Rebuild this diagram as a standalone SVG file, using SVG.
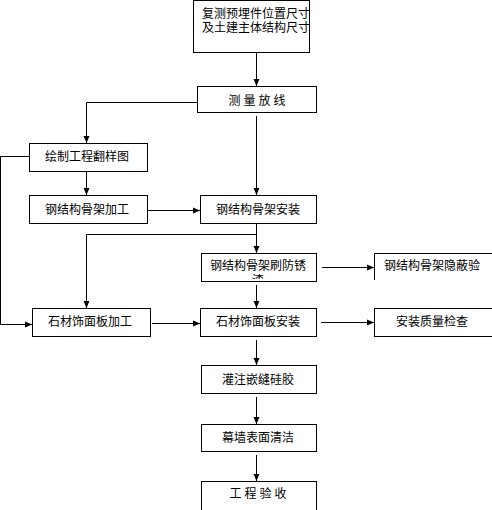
<svg xmlns="http://www.w3.org/2000/svg" width="492" height="510" viewBox="0 0 492 510">
<style>
.box{fill:#fff;stroke:#000;stroke-width:1}
.ln{fill:none;stroke:#000;stroke-width:1}
.arr{fill:none;stroke:#000;stroke-width:1;marker-end:url(#ah)}
text{font-family:"Noto Sans CJK SC","Liberation Sans",sans-serif;font-size:12px;fill:#000;text-anchor:middle}
.sp{letter-spacing:3px}
.lt{text-anchor:start}
</style>
<defs>
<marker id="ah" markerUnits="userSpaceOnUse" markerWidth="8" markerHeight="8" refX="7" refY="3.5" orient="auto">
<path d="M0,0.5 L7,3.5 L0,6.5 z" fill="#000"/>
</marker>
<clipPath id="c1"><rect x="201" y="253" width="116" height="26"/></clipPath>
<clipPath id="c2"><rect x="374" y="253" width="118" height="26"/></clipPath>
</defs>
<g id="connectors">
<path class="arr" d="M256.5,53 V86"/>
<path class="arr" d="M197,102.5 H86.5 V143"/>
<path class="arr" d="M256.5,116 V195"/>
<path class="arr" d="M86.5,172 V195"/>
<path class="arr" d="M29,156.5 H0.5 V324.5 H32"/>
<path class="arr" d="M148,210.5 H200"/>
<path class="arr" d="M256.5,224 V253"/>
<path class="arr" d="M256.5,234.5 H86.5 V308"/>
<path class="arr" d="M322,267.5 H374"/>
<path class="arr" d="M256.5,285 V308"/>
<path class="arr" d="M152,323.5 H200"/>
<path class="arr" d="M321,322.5 H374"/>
<path class="arr" d="M256.5,340 V365"/>
<path class="arr" d="M256.5,397 V424"/>
<path class="arr" d="M256.5,455 V481"/>
</g>
<g id="n1"><rect class="box" x="193.5" y="0.5" width="116" height="52"/><text class="lt" x="202" y="18">复测预埋件位置尺寸</text><text class="lt" x="202" y="32">及土建主体结构尺寸</text></g>
<g id="n2"><rect class="box" x="197.5" y="86.5" width="119" height="26"/><text class="sp" x="258.5" y="105">测量放线</text></g>
<g id="n3"><rect class="box" x="29.5" y="143.5" width="118" height="28"/><text x="87" y="161">绘制工程翻样图</text></g>
<g id="n4"><rect class="box" x="29.5" y="195.5" width="118" height="28"/><text x="87" y="214">钢结构骨架加工</text></g>
<g id="n5"><rect class="box" x="200.5" y="195.5" width="116" height="28"/><text x="258" y="214">钢结构骨架安装</text></g>
<g id="n6"><rect class="box" x="201.5" y="253.5" width="115" height="28"/><text x="258" y="270">钢结构骨架刷防锈</text><text x="258" y="285" clip-path="url(#c1)">漆</text></g>
<g id="n7"><path class="ln" d="M374.5,280 V253.5 H492"/><text x="432" y="270">钢结构骨架隐蔽验</text></g>
<g id="n8"><rect class="box" x="32.5" y="308.5" width="118" height="28"/><text x="90" y="326">石材饰面板加工</text></g>
<g id="n9"><rect class="box" x="200.5" y="308.5" width="116" height="28"/><text x="258" y="326">石材饰面板安装</text></g>
<g id="n10"><rect class="box" x="374.5" y="308.5" width="118" height="28"/><text x="432" y="326">安装质量检查</text></g>
<g id="n11"><rect class="box" x="201.5" y="365.5" width="115" height="28"/><text x="258" y="384">灌注嵌缝硅胶</text></g>
<g id="n12"><rect class="box" x="201.5" y="424.5" width="115" height="27"/><text x="258" y="442">幕墙表面清洁</text></g>
<g id="n13"><rect class="box" x="201.5" y="481.5" width="115" height="40"/><text class="sp" x="259.5" y="498">工程验收</text></g>
</svg>
